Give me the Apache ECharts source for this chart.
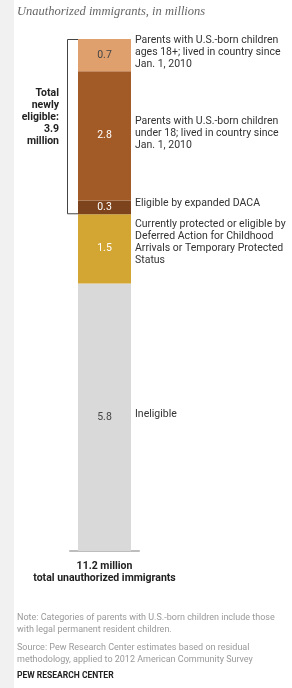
<!DOCTYPE html>
<html><head><meta charset="utf-8">
<script src="https://cdn.jsdelivr.net/npm/echarts@6/dist/echarts.min.js"></script>
<style>html,body{margin:0;padding:0;background:#fff}#c{width:292px;height:688px}</style>
</head><body><div id="c"></div>
<script>
// ---- data ----
const categories = ['11.2 million\ntotal unauthorized immigrants'];
const segmentValues = [5.8, 1.5, 0.3, 2.8, 0.7]; // bottom to top
const segmentNotes = [
  'Ineligible',
  'Currently protected or eligible by\nDeferred Action for Childhood\nArrivals or Temporary Protected\nStatus',
  'Eligible by expanded DACA',
  'Parents with U.S.-born children\nunder 18; lived in country since\nJan. 1, 2010',
  'Parents with U.S.-born children\nages 18+; lived in country since\nJan. 1, 2010'
];
const newlyEligibleTotal = 3.9;
const newlyEligibleFrom = 2; // index of first newly eligible segment
const titleText = 'Unauthorized immigrants, in millions';
const noteText = 'Note: Categories of parents with U.S.-born children include those\nwith legal permanent resident children.';
const sourceText = 'Source: Pew Research Center estimates based on residual\nmethodology, applied to 2012 American Community Survey';
const creditText = 'PEW RESEARCH CENTER';

// ---- styles ----
const segColors = ['#d9d9d9', '#d3a633', '#7c431d', '#a25a27', '#dfa06e'];
const valColors = ['#444', '#fff', '#fff', '#fff', '#444'];
const noteOffsets = [-3, -6, -4, -2, -3];
const font = 'Roboto, "Noto Sans", sans-serif';

const total = segmentValues.reduce((a, b) => a + b, 0);
const lowBracket = segmentValues.slice(0, newlyEligibleFrom).reduce((a, b) => a + b, 0);

const series = [];
segmentValues.forEach((v, i) => {
  series.push({
    type: 'bar', stack: 'vals', barWidth: 53, barGap: '-100%',
    data: [v], itemStyle: { color: segColors[i] },
    label: { show: true, position: 'inside', color: valColors[i], fontSize: 10.5, fontFamily: font,
      formatter: p => p.value.toFixed(1) },
    silent: true
  });
});
segmentValues.forEach((v, i) => {
  series.push({
    type: 'bar', stack: 'notes', barWidth: 53, barGap: '-100%',
    data: [v], itemStyle: { color: 'rgba(0,0,0,0)' },
    label: { show: true, position: 'right', distance: 4, offset: [0, noteOffsets[i]],
      color: '#333', fontSize: 10.5, lineHeight: 12, fontFamily: font,
      formatter: () => segmentNotes[i] },
    silent: true
  });
});
series.push({
  type: 'custom', silent: true,
  data: [[0, lowBracket, total]],
  renderItem: (params, api) => {
    const top = api.coord([api.value(0), api.value(2)]);
    const bot = api.coord([api.value(0), api.value(1)]);
    const xl = top[0] - 26.5;
    const bx = xl - 11;
    return { type: 'group', children: [
      { type: 'polyline', shape: { points: [[xl, top[1] + 0.5], [bx + 0.5, top[1] + 0.5], [bx + 0.5, bot[1] - 0.5], [xl, bot[1] - 0.5]] },
        style: { stroke: '#444', lineWidth: 1, fill: null } },
      { type: 'text', x: bx - 8, y: (top[1] + bot[1]) / 2 - 9,
        style: { text: 'Total\nnewly\neligible:\n' + newlyEligibleTotal.toFixed(1) + '\nmillion', align: 'right', verticalAlign: 'middle',
          font: 'bold 10.5px ' + font, lineHeight: 12, fill: '#222' } }
    ]};
  }
});

const chart = echarts.init(document.getElementById('c'), null, { renderer: 'canvas' });
chart.setOption({
  animation: false,
  backgroundColor: '#fff',
  grid: { left: 70, right: 153, top: 39, bottom: 137 },
  xAxis: { type: 'category', data: categories,
    axisLine: { lineStyle: { color: '#bdbdbd', width: 2 } }, axisTick: { show: false },
    axisLabel: { margin: 9, color: '#222', fontWeight: 'bold', fontSize: 10.5, lineHeight: 12, fontFamily: font } },
  yAxis: { type: 'value', min: 0, max: total, show: false, splitLine: { show: false } },
  series,
  graphic: [
    { type: 'rect', left: 0, top: 0, shape: { width: 14, height: 688 }, style: { fill: '#f1f1f1' }, silent: true },
    { type: 'text', left: 17, top: 5, style: { text: titleText, font: 'italic 12.5px "Liberation Serif", serif', fill: '#666' } },
    { type: 'text', left: 17, top: 612, style: { text: noteText, font: '9px ' + font, lineHeight: 11.5, fill: '#999' } },
    { type: 'text', left: 17, top: 642, style: { text: sourceText, font: '9px ' + font, lineHeight: 11.5, fill: '#999' } },
    { type: 'text', left: 17, top: 671, style: { text: creditText, font: 'bold 8.5px ' + font, fill: '#222' } }
  ]
});
</script></body></html>
